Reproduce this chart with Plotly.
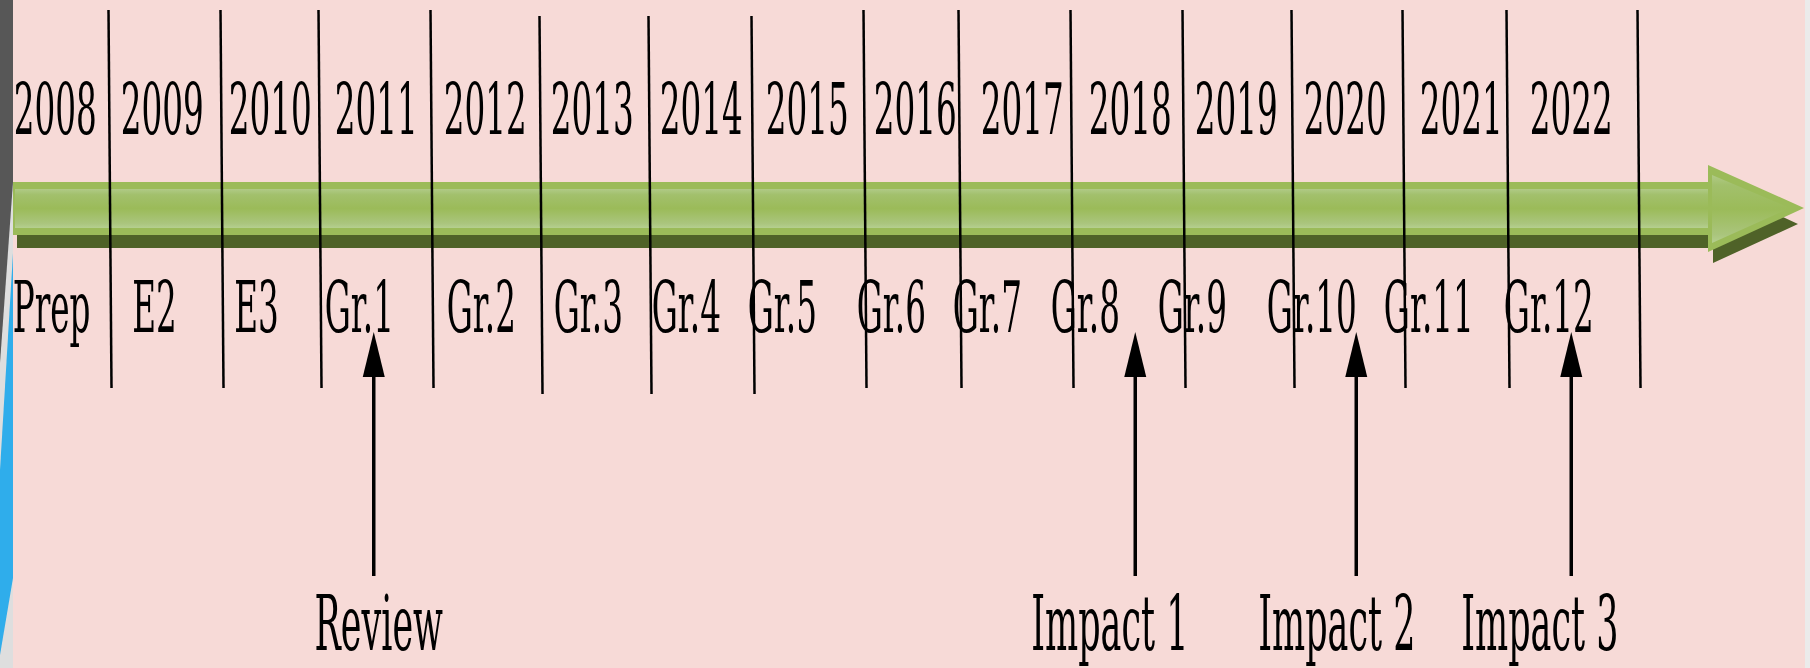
import plotly.graph_objects as go

# ---------------- data ----------------
years = list(range(2008, 2023))
year_labels = [str(y) for y in years]
grade_labels = ["Prep", "E2", "E3", "Gr.1", "Gr.2", "Gr.3", "Gr.4", "Gr.5",
                "Gr.6", "Gr.7", "Gr.8", "Gr.9", "Gr.10", "Gr.11", "Gr.12"]
event_labels = ["Review", "Impact 1", "Impact 2", "Impact 3"]
event_years = [2011, 2018, 2020, 2022]

# ---------------- layout / style constants ----------------
W, H = 1810, 668
PX_PER_YEAR = 107.5
X_START = 2008.5 - 110 / PX_PER_YEAR          # year value at the left page edge
X_END = X_START + W / PX_PER_YEAR


def xp(px):
    """page pixel -> year-axis value"""
    return X_START + px / PX_PER_YEAR


def dx(px):
    return px / PX_PER_YEAR


BG = "#F7DAD7"
GREEN = "#9BBB59"
GREEN_DARK = "#4F6228"
FONT = "DejaVu Serif"
SQUEEZE = 0.46

# small hand-drawn offsets (pixels) of the original diagram
year_xshift = [-0.5, -1, -1, -2, -1, -1, 0, -1, -1, -1, -1, -2, -1, 8, 10]
grade_xshift = [-4.5, -9, -15, -19, -5, -5, -14.5, -26, -24.5, -36, -46, -46, -34, -25, -12]
divider_xshift = [0, 4.5, -5, -0.5, 1, 2.5, -2, 2.5, -10, -5.5, -1, 0.5, 4, 0.5, 24]
event_label_xshift = [0, -21, -9, -21]
event_arrow_xshift = [-5, 4, 10, 10]
lowered_dividers = {4, 5, 6}

fig = go.Figure()

# ---------------- big timeline arrow ----------------
def poly(xs_px, ys, **kw):
    fig.add_trace(go.Scatter(
        x=[xp(v) for v in xs_px] + [xp(xs_px[0])], y=ys + [ys[0]],
        mode="lines", fill="toself", line=dict(width=0),
        hoverinfo="skip", showlegend=False, **kw))

# shadow
poly([17, 1713, 1713, 1798, 1713, 1713, 17],
     [195, 195, 185, 224, 263, 248, 248], fillcolor=GREEN_DARK)
# main body
poly([13, 1708, 1708, 1804, 1708, 1708, 13],
     [182, 182, 165, 208, 252, 235, 235], fillcolor=GREEN)
bevel = [[0, "#B5CF8F"], [0.12, "#AAC57D"], [0.5, "#9BBB59"],
         [0.85, "#A2C06C"], [1, "#B0CA86"]]
# inner bevel band of the shaft
poly([15, 1708, 1708, 15], [189, 189, 228, 228],
     fillgradient=dict(type="vertical", colorscale=bevel))
# inner bevel of the head
poly([1712, 1790, 1712], [175, 208, 243],
     fillgradient=dict(type="vertical", colorscale=bevel))

shapes = []
# ---------------- side strips ----------------
def path_px(pts):
    return "M " + " L ".join(f"{xp(a)},{b}" for a, b in pts) + " Z"

shapes.append(dict(type="path", path=path_px([(0, 0), (13, 0), (13, H), (0, H)]),
                   fillcolor="#DEDEDE", line=dict(width=0), layer="below"))
shapes.append(dict(type="path", path=path_px([(0, 0), (13, 0), (13, 182), (0, 363)]),
                   fillcolor="#575757", line=dict(width=0), layer="below"))
shapes.append(dict(type="path", path=path_px([(13, 253), (13, 578), (0, 655), (0, 470)]),
                   fillcolor="#2FADEB", line=dict(width=0), layer="below"))
shapes.append(dict(type="path", path=path_px([(1805, 0), (W, 0), (W, H), (1805, H)]),
                   fillcolor="#EBEBEB", line=dict(width=0), layer="below"))

# ---------------- year dividers ----------------
for i, (y, sh) in enumerate(zip(years, divider_xshift)):
    b = y + 0.5 + dx(sh)
    drop = 6 if i in lowered_dividers else 0
    shapes.append(dict(type="line", x0=b - dx(1.5), x1=b + dx(1.5),
                       y0=10 + drop, y1=388 + drop,
                       line=dict(color="black", width=2.5)))

# ---------------- event arrows ----------------
HEAD_TIP, HEAD_BASE, TAIL = 332, 377, 576
half = dx(11)
for ey, sh in zip(event_years, event_arrow_xshift):
    x = ey + dx(sh)
    shapes.append(dict(type="line", x0=x, x1=x, y0=HEAD_BASE - 2, y1=TAIL,
                       line=dict(color="black", width=3.5)))
    shapes.append(dict(type="path",
                       path=f"M {x - half},{HEAD_BASE} L {x},{HEAD_TIP} L {x + half},{HEAD_BASE} Z",
                       fillcolor="black", line=dict(width=0)))

# ---------------- text ----------------
annotations = []
for y, lab, sh in zip(years, year_labels, year_xshift):
    annotations.append(dict(x=y, y=109, text=lab, xshift=sh, showarrow=False,
                            xanchor="center", yanchor="middle",
                            font=dict(family=FONT, size=71, color="black")))
for y, lab, sh in zip(years, grade_labels, grade_xshift):
    annotations.append(dict(x=y, y=307, text=lab, xshift=sh, showarrow=False,
                            xanchor="center", yanchor="middle",
                            font=dict(family=FONT, size=71, color="black")))
for y, lab, sh in zip(event_years, event_labels, event_label_xshift):
    annotations.append(dict(x=y, y=623, text=lab, xshift=sh, showarrow=False,
                            xanchor="center", yanchor="middle",
                            font=dict(family=FONT, size=76, color="black")))

fig.update_layout(
    width=W, height=H,
    margin=dict(l=0, r=0, t=0, b=0),
    paper_bgcolor=BG, plot_bgcolor=BG,
    xaxis=dict(range=[X_START, X_END], visible=False, fixedrange=True),
    yaxis=dict(range=[H, 0], visible=False, fixedrange=True),
    shapes=shapes, annotations=annotations,
    showlegend=False,
)

# page without default body margin; the reference lettering is a tall,
# horizontally compressed serif face
squeeze_js = """
document.body.style.margin = '0';
document.body.style.overflow = 'hidden';
var gd = document.getElementById('{plot_id}');
function squeeze(){
  gd.querySelectorAll('text.annotation-text').forEach(function(t){
    t.style.transformBox = 'fill-box';
    t.style.transformOrigin = '50% 50%';
    t.style.transform = 'scaleX(%s)';
  });
}
squeeze();
gd.on('plotly_afterplot', squeeze);
""".replace("%s", str(SQUEEZE))

fig.write_html("out.html", config=dict(displayModeBar=False, staticPlot=True),
               post_script=squeeze_js)
